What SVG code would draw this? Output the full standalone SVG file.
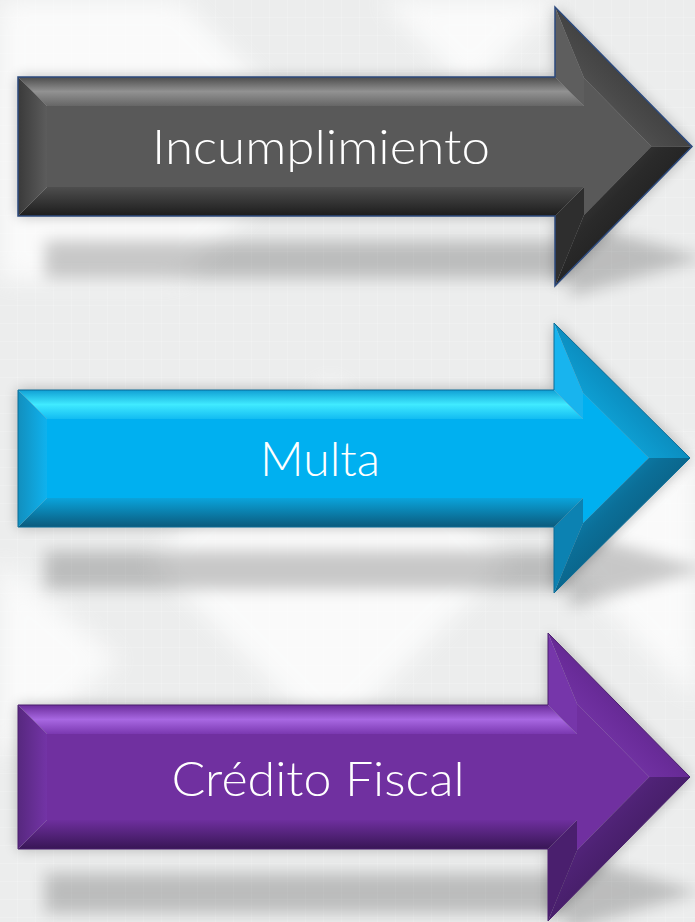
<svg xmlns="http://www.w3.org/2000/svg" width="695" height="922" viewBox="0 0 695 922">
<style>
.lbl{font-family:"Lato","Open Sans","Liberation Sans",sans-serif;font-weight:300;font-size:47px;fill:#ffffff;text-anchor:middle}
</style>
<defs>
<filter id="halo" x="-10%" y="-20%" width="120%" height="140%"><feGaussianBlur stdDeviation="7"/></filter>
<filter id="soft" x="-10%" y="-50%" width="120%" height="200%"><feGaussianBlur stdDeviation="8"/></filter>
<filter id="bgblur"><feGaussianBlur stdDeviation="12"/></filter>
<pattern id="grid" width="18" height="18" patternUnits="userSpaceOnUse"><path d="M18 0V18H0" fill="none" stroke="#ffffff" stroke-opacity="0.35" stroke-width="1"/></pattern>
<!-- gray -->
<linearGradient id="gTop" x1="0" y1="0" x2="0" y2="1"><stop offset="0" stop-color="#4c4c4c"/><stop offset="0.5" stop-color="#929292"/><stop offset="1" stop-color="#666"/></linearGradient>
<linearGradient id="gBot" x1="0" y1="0" x2="0" y2="1"><stop offset="0" stop-color="#4e4e4e"/><stop offset="1" stop-color="#1c1c1c"/></linearGradient>
<linearGradient id="gLeft" x1="0" y1="0" x2="1" y2="0"><stop offset="0" stop-color="#3a3a3a"/><stop offset="1" stop-color="#5c5c5c"/></linearGradient>
<linearGradient id="gHT" x1="1" y1="0" x2="0" y2="1"><stop offset="0" stop-color="#222"/><stop offset="0.6" stop-color="#4a4a4a"/><stop offset="1" stop-color="#6e6e6e"/></linearGradient>
<linearGradient id="gHB" x1="1" y1="1" x2="0" y2="0"><stop offset="0" stop-color="#0e0e0e"/><stop offset="0.6" stop-color="#2a2a2a"/><stop offset="1" stop-color="#555"/></linearGradient>
<!-- cyan -->
<linearGradient id="cTop" x1="0" y1="0" x2="0" y2="1"><stop offset="0" stop-color="#109fd4"/><stop offset="0.5" stop-color="#40eaff"/><stop offset="1" stop-color="#12bcf2"/></linearGradient>
<linearGradient id="cBot" x1="0" y1="0" x2="0" y2="1"><stop offset="0" stop-color="#0aa4dc"/><stop offset="1" stop-color="#0b5a7c"/></linearGradient>
<linearGradient id="cLeft" x1="0" y1="0" x2="1" y2="0"><stop offset="0" stop-color="#128fbe"/><stop offset="1" stop-color="#0fb2ee"/></linearGradient>
<linearGradient id="cHT" x1="1" y1="0" x2="0" y2="1"><stop offset="0" stop-color="#0a5f85"/><stop offset="0.55" stop-color="#0c93c6"/><stop offset="1" stop-color="#14c2f8"/></linearGradient>
<linearGradient id="cHB" x1="1" y1="1" x2="0" y2="0"><stop offset="0" stop-color="#083f58"/><stop offset="0.6" stop-color="#0b6f98"/><stop offset="1" stop-color="#0fa8e2"/></linearGradient>
<!-- purple -->
<linearGradient id="pTop" x1="0" y1="0" x2="0" y2="1"><stop offset="0" stop-color="#6a2c9a"/><stop offset="0.5" stop-color="#a868e2"/><stop offset="1" stop-color="#7a38b0"/></linearGradient>
<linearGradient id="pBot" x1="0" y1="0" x2="0" y2="1"><stop offset="0" stop-color="#6e2f9e"/><stop offset="1" stop-color="#381655"/></linearGradient>
<linearGradient id="pLeft" x1="0" y1="0" x2="1" y2="0"><stop offset="0" stop-color="#57287f"/><stop offset="1" stop-color="#7334a6"/></linearGradient>
<linearGradient id="pHT" x1="1" y1="0" x2="0" y2="1"><stop offset="0" stop-color="#3e1a5e"/><stop offset="0.55" stop-color="#6a2c9a"/><stop offset="1" stop-color="#8644bc"/></linearGradient>
<linearGradient id="pHB" x1="1" y1="1" x2="0" y2="0"><stop offset="0" stop-color="#2a1040"/><stop offset="0.6" stop-color="#4e2274"/><stop offset="1" stop-color="#7232a6"/></linearGradient>
</defs>

<!-- background -->
<rect width="695" height="922" fill="#eceded"/>
<rect width="695" height="922" fill="url(#grid)"/>
<g filter="url(#bgblur)" fill="#ffffff" opacity="0.75">
<polygon points="0,0 180,0 320,140 180,280 0,280"/>
<polygon points="380,0 560,0 470,90"/>
<polygon points="150,560 330,380 510,560 330,740"/>
<polygon points="0,560 120,660 0,760"/>
<polygon points="560,560 695,440 695,700"/>
</g>

<!-- shadows -->
<g id="shadows">
<path d="M18 77H555V7L692 146.5L555 286V216H18Z" fill="#000" opacity="0.26" filter="url(#halo)"/>
<path d="M45 241H570V221L705 258L570 296V278H45Z" fill="#000" opacity="0.2" filter="url(#soft)"/>
<path d="M18 390H554V323L690 458L554 593V527H18Z" fill="#000" opacity="0.26" filter="url(#halo)"/>
<path d="M45 551H570V531L705 569L570 607V589H45Z" fill="#000" opacity="0.2" filter="url(#soft)"/>
<path d="M18 705H548V633L690 777L548 921V849H18Z" fill="#000" opacity="0.26" filter="url(#halo)"/>
<path d="M45 873H565V853L700 892L565 931V913H45Z" fill="#000" opacity="0.2" filter="url(#soft)"/>
</g>

<g id="connectors"></g>

<!-- Arrow 1 -->
<g id="node-incumplimiento">
<polygon points="47,106 584,106 584,77.9 651.3,146.5 584,215.1 584,187 47,187" fill="#595959"/>
<polygon points="18,77 555,77 584,106 47,106" fill="url(#gTop)"/>
<polygon points="555,77 555,7 584,77.9 584,106" fill="#5e5e5e"/>
<polygon points="555,7 692,146.5 651.3,146.5 584,77.9" fill="url(#gHT)"/>
<polygon points="692,146.5 555,286 584,215.1 651.3,146.5" fill="url(#gHB)"/>
<polygon points="555,286 555,216 584,187 584,215.1" fill="#2e2e2e"/>
<polygon points="555,216 18,216 47,187 584,187" fill="url(#gBot)"/>
<polygon points="18,216 18,77 47,106 47,187" fill="url(#gLeft)"/>
<path d="M18 77H555V7L692 146.5L555 286V216H18Z" fill="none" stroke="#2c4a7e" stroke-width="1.5"/>
<text class="lbl" x="321" y="164" textLength="338" lengthAdjust="spacingAndGlyphs">Incumplimiento</text>
</g>

<!-- Arrow 2 -->
<g id="node-multa">
<polygon points="47,419 583,419 583,392.7 648.8,458 583,523.3 583,498 47,498" fill="#00b0f0"/>
<polygon points="18,390 554,390 583,419 47,419" fill="url(#cTop)"/>
<polygon points="554,390 554,323 583,392.7 583,419" fill="#18b4ee"/>
<polygon points="554,323 690,458 648.8,458 583,392.7" fill="url(#cHT)"/>
<polygon points="690,458 554,593 583,523.3 648.8,458" fill="url(#cHB)"/>
<polygon points="554,593 554,527 583,498 583,523.3" fill="#0c82b2"/>
<polygon points="554,527 18,527 47,498 583,498" fill="url(#cBot)"/>
<polygon points="18,527 18,390 47,419 47,498" fill="url(#cLeft)"/>
<path d="M18 390H554V323L690 458L554 593V527H18Z" fill="none" stroke="#0a6d98" stroke-width="1"/>
<text class="lbl" x="320" y="476" textLength="120" lengthAdjust="spacingAndGlyphs">Multa</text>
</g>

<!-- Arrow 3 -->
<g id="node-credito-fiscal">
<polygon points="47,734 577,734 577,703.7 649.3,777 577,850.3 577,820 47,820" fill="#7030a0"/>
<polygon points="18,705 548,705 577,734 47,734" fill="url(#pTop)"/>
<polygon points="548,705 548,633 577,703.7 577,734" fill="#7636aa"/>
<polygon points="548,633 690,777 649.3,777 577,703.7" fill="url(#pHT)"/>
<polygon points="690,777 548,921 577,850.3 649.3,777" fill="url(#pHB)"/>
<polygon points="548,921 548,849 577,820 577,850.3" fill="#4a1f6e"/>
<polygon points="548,849 18,849 47,820 577,820" fill="url(#pBot)"/>
<polygon points="18,849 18,705 47,734 47,820" fill="url(#pLeft)"/>
<path d="M18 705H548V633L690 777L548 921V849H18Z" fill="none" stroke="#4a1f6e" stroke-width="1"/>
<text class="lbl" x="318" y="796" textLength="293" lengthAdjust="spacingAndGlyphs">Crédito Fiscal</text>
</g>
</svg>
